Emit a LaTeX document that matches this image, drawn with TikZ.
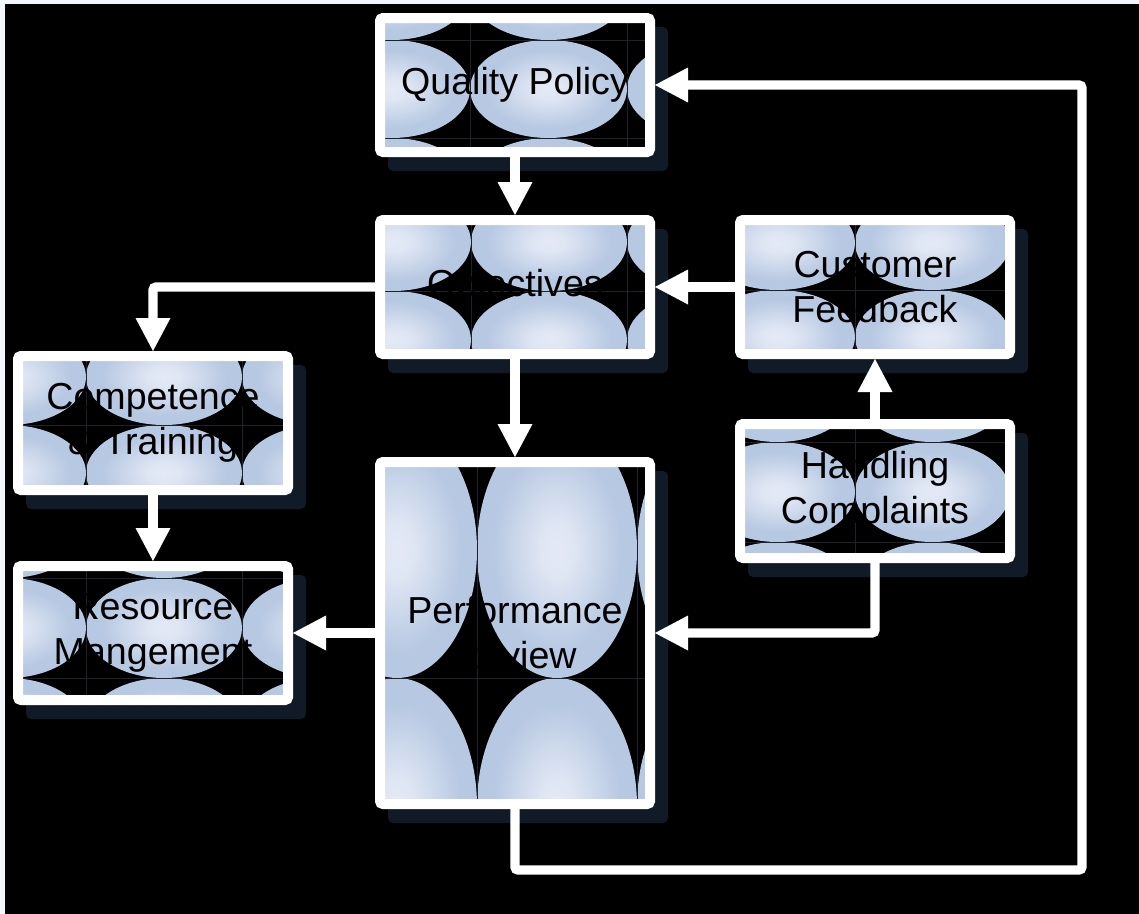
\documentclass[tikz,border=0pt]{standalone}
\usepackage{fontspec}
\setmainfont{Liberation Sans}
\usetikzlibrary{arrows.meta}

\definecolor{ovalhi}{HTML}{E3E9F5}
\definecolor{ovallo}{HTML}{B7C8E2}
\definecolor{shadowc}{HTML}{111A27}
\definecolor{stripc}{HTML}{F2F5FC}
\definecolor{seamc}{HTML}{1E232B}

% soft glow used for every oval of the box texture
\pgfdeclareradialshading{ovalglow}{\pgfpoint{0bp}{0bp}}{%
  color(0bp)=(ovalhi); color(5bp)=(ovalhi!92!ovallo);
  color(20bp)=(ovallo); color(25bp)=(ovallo); color(50bp)=(ovallo)}

% shadow + oval texture of one box
% #1..#4 outer corners, #5 #6 a tile corner, #7 #8 tile width/height
\newcommand\ovaltiles[8]{%
  \fill[shadowc, rounded corners=3.75pt] (#1+13,#2+14) rectangle (#3+13,#4+14);
  \begin{scope}
    \clip (#1+5,#2+5) rectangle (#3-5,#4-5);
    \fill[black] (#1,#2) rectangle (#3,#4);
    \foreach \i in {-2,...,2}{%
      \foreach \j in {-2,...,2}{%
        \pgfmathsetmacro\cx{#5+#7/2+\i*#7}%
        \pgfmathsetmacro\cy{#6+#8/2+\j*#8}%
        \shade[shading=ovalglow] (\cx,\cy) ellipse [x radius={#7*0.375pt}, y radius={#8*0.375pt}];
      }%
    }%
    \foreach \i in {-2,...,2}{\draw[seam] (#5+\i*#7,#2) -- (#5+\i*#7,#4);}%
    \foreach \j in {-2,...,2}{\draw[seam] (#1,#6+\j*#8) -- (#3,#6+\j*#8);}%
  \end{scope}}

\begin{document}
\begin{tikzpicture}[x=0.75pt, y=-0.75pt,
  seam/.style={draw=seamc, line width=0.45pt},
  qbox/.style={draw=white, line width=7.5pt, outer sep=3.75pt, rounded corners=2.25pt,
    minimum width=202.5pt, minimum height=100.5pt, inner sep=0pt,
    align=center, text=black, font=\fontsize{28.2pt}{33.8pt}\selectfont},
  conn/.style={draw=white, line width=7.1pt, rounded corners=2.5pt,
    -{Triangle[width=26.25pt, length=24.75pt, line width=0pt]}}]

\useasboundingbox (0,0) rectangle (1139,914);
\fill[stripc] (0,0) rectangle (1139,914);
\fill[black] (5,4) rectangle (1139,914);

% textures and shadows
\ovaltiles{375}{13}{655}{157}{470}{40}{157}{98}
\ovaltiles{375}{215}{655}{359}{471}{291}{156}{98}
\ovaltiles{735}{215}{1015}{359}{855}{290}{155}{94}
\ovaltiles{735}{419}{1015}{563}{855}{442}{155}{100}
\ovaltiles{13}{351}{293}{495}{86}{425}{156}{96}
\ovaltiles{13}{561}{293}{705}{86}{578}{156}{100}
\ovaltiles{375}{457}{655}{809}{477}{678}{160}{256}

% boxes
\node[qbox] (qp)  at (515,85)  {Quality Policy};
\node[qbox] (obj) at (515,287) {Objectives};
\node[qbox] (cf)  at (875,287) {Customer\\Feedback};
\node[qbox] (hc)  at (875,491) {Handling\\Complaints};
\node[qbox] (ct)  at (153,423) {Competence\\\& Training};
\node[qbox] (rm)  at (153,633) {Resource\\Mangement};
\node[qbox, minimum height=256.5pt] (pr) at (515,633) {Performance\\Review};

\coordinate (loopcorner) at (1082,870);

% connectors
\draw[conn] (qp.south) -- (obj.north);
\draw[conn] (obj.west) -| (ct.north);
\draw[conn] (obj.south) -- (pr.north);
\draw[conn] (cf.west) -- (obj.east);
\draw[conn] (hc.north) -- (cf.south);
\draw[conn] (hc.south) |- (pr.east);
\draw[conn] (pr.west) -- (rm.east);
\draw[conn] (ct.south) -- (rm.north);
\draw[conn] (pr.south) |- (loopcorner) |- (qp.east);
\end{tikzpicture}
\end{document}
